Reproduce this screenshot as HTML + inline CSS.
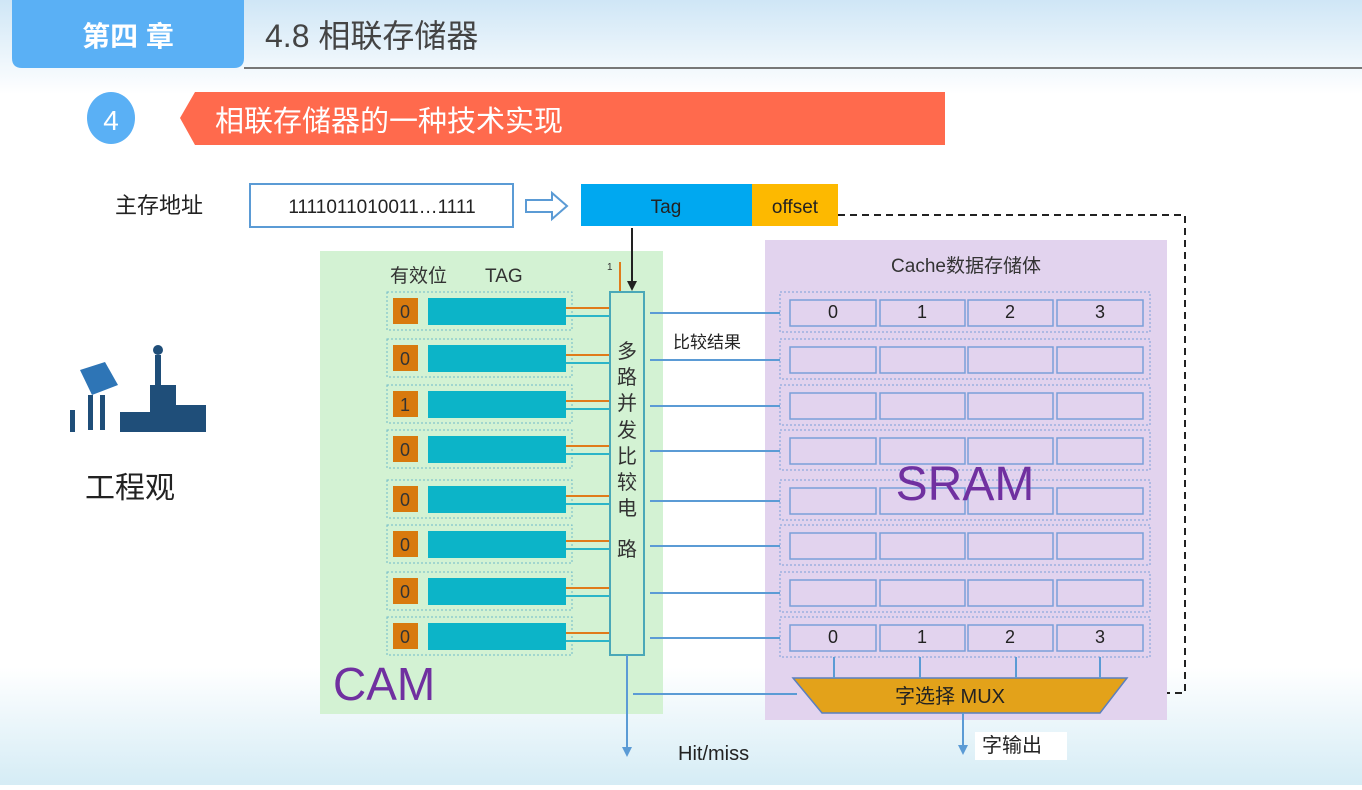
<!DOCTYPE html>
<html><head><meta charset="utf-8"><style>
body{margin:0;width:1362px;height:785px;overflow:hidden;font-family:"Liberation Sans","Noto Sans CJK SC",sans-serif;}
</style></head><body>
<svg width="1362" height="785" xmlns="http://www.w3.org/2000/svg" xmlns:xlink="http://www.w3.org/1999/xlink" font-family="Liberation Sans, Noto Sans CJK SC, sans-serif">
<defs>
<linearGradient id="bg" x1="0" y1="0" x2="0" y2="1">
<stop offset="0" stop-color="#cfe6f6"/><stop offset="0.12" stop-color="#ffffff"/><stop offset="0.85" stop-color="#ffffff"/><stop offset="1" stop-color="#d5ecf5"/></linearGradient>
<marker id="ah" markerWidth="5" markerHeight="5" refX="2.5" refY="2.5" orient="auto"><path d="M0,0L5,2.5L0,5z" fill="#5b9bd5"/></marker>
<marker id="ak" markerWidth="5" markerHeight="5" refX="2.5" refY="2.5" orient="auto"><path d="M0,0L5,2.5L0,5z" fill="#222"/></marker>
<g id="srow">
<rect x="780" y="0" width="370" height="40" fill="none" stroke="#7a9fd8" stroke-dasharray="2,2"/>
<rect x="790" y="8" width="86" height="26" fill="none" stroke="#7a9fd8" stroke-width="1.5"/>
<rect x="880" y="8" width="85" height="26" fill="none" stroke="#7a9fd8" stroke-width="1.5"/>
<rect x="968" y="8" width="85" height="26" fill="none" stroke="#7a9fd8" stroke-width="1.5"/>
<rect x="1057" y="8" width="86" height="26" fill="none" stroke="#7a9fd8" stroke-width="1.5"/>
<line x1="650" y1="21" x2="780" y2="21" stroke="#5b9bd5" stroke-width="2"/>
</g>
<g id="crow">
<rect x="387" y="0" width="185" height="38" fill="none" stroke="#6fb9c8" stroke-dasharray="2,2"/>
<rect x="393" y="6" width="25" height="26" fill="#d87a0e"/>
<rect x="428" y="6" width="138" height="27" fill="#0cb4c8"/>
<line x1="566" y1="16" x2="610" y2="16" stroke="#e07b1a" stroke-width="2"/>
<line x1="566" y1="24" x2="614" y2="24" stroke="#2bb5c8" stroke-width="2"/>
</g>
</defs>
<rect width="1362" height="785" fill="url(#bg)"/>
<!-- header -->
<path d="M12,0H244V58Q244,68 234,68H22Q12,68 12,58Z" fill="#5ab0f5"/>
<text x="128" y="46" font-size="28" fill="#fff" text-anchor="middle" font-weight="bold">第四 章</text>
<text x="265" y="47" font-size="32" fill="#444">4.8 相联存储器</text>
<line x1="244" y1="68" x2="1362" y2="68" stroke="#777" stroke-width="2"/>
<ellipse cx="111" cy="118" rx="24" ry="26" fill="#5ab0f5"/>
<text x="111" y="130" font-size="28" fill="#fff" text-anchor="middle">4</text>
<path d="M195,92H945V145H195L180,118Z" fill="#ff6a4d"/>
<text x="215" y="131" font-size="29" fill="#fff">相联存储器的一种技术实现</text>
<!-- left icon -->
<g fill="#1f4e79">
<rect x="150" y="385" width="26" height="47"/><rect x="176" y="405" width="30" height="27"/><rect x="120" y="412" width="30" height="20"/>
<rect x="155" y="355" width="6" height="30"/><circle cx="158" cy="350" r="5"/>
<path d="M80,370L105,362L118,385L92,395Z" fill="#2e75b6"/>
<rect x="88" y="395" width="5" height="35"/><rect x="100" y="395" width="5" height="35"/><rect x="70" y="410" width="5" height="22"/>
</g>
<text x="85" y="498" font-size="30" fill="#222">工程观</text>
<!-- address -->
<text x="115" y="213" font-size="22" fill="#222">主存地址</text>
<rect x="250" y="184" width="263" height="43" fill="#fff" stroke="#5b9bd5" stroke-width="2"/>
<text x="382" y="213" font-size="19" fill="#222" text-anchor="middle">1111011010011…1111</text>
<path d="M526,200H552V193L567,206L552,219V212H526Z" fill="#fff" stroke="#5b9bd5" stroke-width="2"/>
<rect x="581" y="184" width="171" height="42" fill="#00a8f0"/>
<rect x="752" y="184" width="86" height="42" fill="#fdb900"/>
<text x="666" y="213" font-size="19" fill="#222" text-anchor="middle">Tag</text>
<text x="795" y="213" font-size="19" fill="#222" text-anchor="middle">offset</text>
<path d="M838,215H1185V693H1127" fill="none" stroke="#222" stroke-width="2" stroke-dasharray="7,5"/>
<!-- CAM -->
<rect x="320" y="251" width="343" height="463" fill="#d3f2d3"/>
<text x="390" y="282" font-size="19" fill="#333">有效位</text><text x="485" y="282" font-size="19" fill="#333">TAG</text>
<text x="333" y="700" font-size="46" fill="#7030a0">CAM</text>
<use xlink:href="#crow" href="#crow" y="292"/>
<use xlink:href="#crow" href="#crow" y="339"/>
<use xlink:href="#crow" href="#crow" y="385"/>
<use xlink:href="#crow" href="#crow" y="430"/>
<use xlink:href="#crow" href="#crow" y="480"/>
<use xlink:href="#crow" href="#crow" y="525"/>
<use xlink:href="#crow" href="#crow" y="572"/>
<use xlink:href="#crow" href="#crow" y="617"/>
<g font-size="18" fill="#333" text-anchor="middle">
<text x="405" y="318">0</text><text x="405" y="365">0</text><text x="405" y="411">1</text><text x="405" y="456">0</text>
<text x="405" y="506">0</text><text x="405" y="551">0</text><text x="405" y="598">0</text><text x="405" y="643">0</text></g>
<!-- SRAM -->
<rect x="765" y="240" width="402" height="480" fill="#e2d3ee"/>
<text x="966" y="272" font-size="19" fill="#333" text-anchor="middle">Cache数据存储体</text>
<use xlink:href="#srow" href="#srow" y="292"/>
<use xlink:href="#srow" href="#srow" y="339"/>
<use xlink:href="#srow" href="#srow" y="385"/>
<use xlink:href="#srow" href="#srow" y="430"/>
<use xlink:href="#srow" href="#srow" y="480"/>
<use xlink:href="#srow" href="#srow" y="525"/>
<use xlink:href="#srow" href="#srow" y="572"/>
<use xlink:href="#srow" href="#srow" y="617"/>
<g font-size="18" fill="#222" text-anchor="middle">
<text x="833" y="318">0</text><text x="922" y="318">1</text><text x="1010" y="318">2</text><text x="1100" y="318">3</text>
<text x="833" y="643">0</text><text x="922" y="643">1</text><text x="1010" y="643">2</text><text x="1100" y="643">3</text></g>
<text x="965" y="500" font-size="48" fill="#7030a0" text-anchor="middle">SRAM</text>
<!-- comparator -->
<line x1="632" y1="228" x2="632" y2="286" stroke="#222" stroke-width="2" marker-end="url(#ak)"/>
<line x1="620" y1="262" x2="620" y2="292" stroke="#e07b1a" stroke-width="2"/>
<text x="607" y="270" font-size="10" fill="#333">1</text>
<rect x="610" y="292" width="34" height="363" fill="#d3f2d3" stroke="#4aa8b8" stroke-width="2"/>
<g font-size="20" fill="#333" text-anchor="middle">
<text x="627" y="358">多</text><text x="627" y="384">路</text><text x="627" y="410">并</text><text x="627" y="437">发</text><text x="627" y="463">比</text><text x="627" y="489">较</text><text x="627" y="515">电</text><text x="627" y="556">路</text></g>
<text x="673" y="348" font-size="17" fill="#222">比较结果</text>
<!-- MUX -->
<path d="M793,678H1127L1100,713H822Z" fill="#e3a21a" stroke="#5b7fbf" stroke-width="1.5"/>
<text x="950" y="703" font-size="20" fill="#222" text-anchor="middle">字选择 MUX</text>
<g stroke="#5b9bd5" stroke-width="2">
<line x1="834" y1="657" x2="834" y2="678"/><line x1="920" y1="657" x2="920" y2="678"/><line x1="1016" y1="657" x2="1016" y2="678"/><line x1="1100" y1="657" x2="1100" y2="678"/>
<line x1="633" y1="694" x2="797" y2="694"/>
<line x1="627" y1="655" x2="627" y2="752" marker-end="url(#ah)"/>
<line x1="963" y1="713" x2="963" y2="750" marker-end="url(#ah)"/>
</g>
<text x="678" y="760" font-size="20" fill="#222">Hit/miss</text>
<rect x="975" y="732" width="92" height="28" fill="#fff"/>
<text x="982" y="752" font-size="20" fill="#222">字输出</text>
</svg>
</body></html>
